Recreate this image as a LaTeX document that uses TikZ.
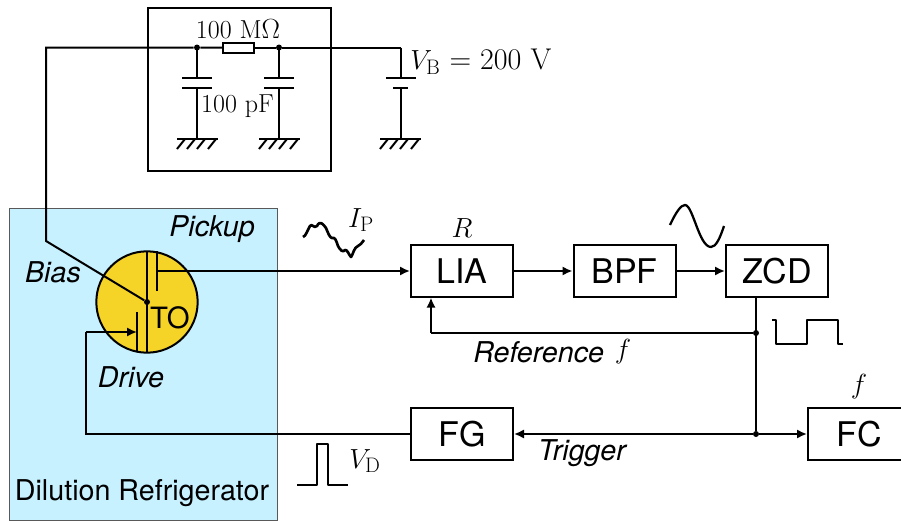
\documentclass[tikz,border=0pt]{standalone}
\usepackage{fontspec}
\newfontfamily\hv{TeX Gyre Heros}
\usetikzlibrary{arrows.meta}
\tikzset{
  x=0.75pt,y=-0.75pt,
  wire/.style={line width=1.5pt,line join=miter},
  sig/.style={wire,-{Latex[length=7.5pt,width=7pt]}},
  blockbox/.style={draw,line width=1.5pt,fill=white,minimum width=76.5pt,minimum height=38.5pt,inner sep=0pt,font=\hv\fontsize{25.5}{30}\selectfont},
  lab/.style={inner sep=0pt,font=\hv\itshape\fontsize{21.5}{26}\selectfont},
  serif/.style={inner sep=0pt,font=\fontsize{19.5}{23}\selectfont},
  mth/.style={inner sep=0pt,font=\fontsize{22.5}{27}\selectfont},
  dotn/.style={circle,fill=black,inner sep=0pt,minimum size=4.5pt},
  wave/.style={line width=1.5pt,line join=round},
}
\newcommand{\gnd}[1]{%
  \draw[wire] (#1-20,139) -- (#1+21,139);
  \foreach \d in {-12,-2,8,19}{\draw[wire] (#1+\d,139) -- ++(-8,10);}
}
\begin{document}
\begin{tikzpicture}
\useasboundingbox (0,0) rectangle (901,521);
% refrigerator
\node[draw=black!65,line width=0.9pt,inner sep=0pt,anchor=north west,fill={rgb,255:red,200;green,241;blue,255},minimum width=201pt,minimum height=234pt] (fridge) at (9,208) {};
% bias network box
\node[draw,line width=1.5pt,anchor=north west,inner sep=0pt,minimum width=137.25pt,minimum height=122pt] (rcbox) at (147,7) {};
% qubit
\node[circle,draw,line width=1.5pt,fill={rgb,255:red,245;green,211;blue,39},minimum size=76pt,inner sep=0pt] (to) at (147,302) {};
\node[inner sep=0pt,font=\hv\fontsize{22}{26}\selectfont] (tolab) at (170,318) {TO};
% blocks
\node[blockbox] (lia) at (462,271) {LIA};
\node[blockbox] (bpf) at (624.5,271) {BPF};
\node[blockbox] (zcd) at (777,271) {ZCD};
\node[blockbox] (fg) at (462,434) {FG};
\node[blockbox,anchor=west] (fc) at (807,434) {FC};
% coordinates
\coordinate (biasTop) at (46,47.5);
\coordinate (biasBend) at (46,241);
\node[dotn] (center) at (147,302) {};
\node[dotn] (n1) at (197,47.5) {};
\node[dotn] (n2) at (279,47.5) {};
\coordinate (vb) at (400.5,47.5);
\node[draw,line width=1.5pt,fill=white,minimum width=23.5pt,minimum height=7.5pt,inner sep=0pt] (res) at (238.5,47.5) {};
\node[dotn] (j1) at (756,333) {};
\node[dotn] (j2) at (756,434) {};
\coordinate (fbk) at (431,333);
\coordinate (toA) at (147,251);
\coordinate (toB) at (147,353);
\coordinate (puT) at (157,251);
\coordinate (puB) at (157,291);
\coordinate (puM) at (157,271);
\coordinate (drT) at (137,312);
\coordinate (drB) at (137,352);
\coordinate (drM) at (137,332);
\coordinate (drC) at (86,332);
\coordinate (drD) at (86,434);
% wiring
\draw[wire] (center) -- (biasBend) -- (biasTop) -- (n1) -- (res);
\draw[wire] (res) -- (n2) -- (vb);
\draw[wire] (toA) -- (toB);
\draw[wire] (puT) -- (puB);
\draw[wire] (drT) -- (drB);
\draw[sig] (puM) -- (lia.west);
\draw[sig] (lia) -- (bpf);
\draw[sig] (bpf) -- (zcd);
\draw[wire] (fg.west) -- (drD) -- (drC);
\draw[sig] (drC) -- (drM);
\draw[wire] (zcd.south -| j1) -- (j2);
\draw[wire] (j1) -- (fbk);
\draw[sig] (fbk) -- (fbk |- lia.south);
\draw[sig] (j2) -- (fc.west);
\draw[sig] (j2) -- (fg.east);
% capacitors
\foreach \cx in {197,279}{
  \draw[wire] (\cx,47.5) -- (\cx,78);
  \draw[wire] (\cx-15,78) -- (\cx+15,78);
  \draw[wire] (\cx-15,88) -- (\cx+15,88);
  \draw[wire] (\cx,88) -- (\cx,139);
  \gnd{\cx}
}
\draw[wire] (vb) -- (400.5,78);
\draw[wire] (386,78) -- (416,78);
\draw[wire] (393,88) -- (408,88);
\draw[wire] (400.5,88) -- (400.5,139);
\gnd{400}
% labels
\node[serif] (lr) at (238,29) {100 M$\Omega$};
\node[serif] (lc) at (237.5,106) {100 pF};
\node[mth,anchor=west] (lvb) at (410,62) {$V_{\mathrm{B}}$ = 200 V};
\node[lab] (lpick) at (212,229) {Pickup};
\node[lab] (lbias) at (53,272) {Bias};
\node[lab] (ldrive) at (131,377) {Drive};
\node[inner sep=0pt,font=\hv\fontsize{21.5}{26}\selectfont] (ldil) at (142,493) {Dilution Refrigerator};
\node[mth] (lip) at (361,220) {$I_{\mathrm{P}}$};
\node[mth] (lR) at (462,228) {$R$};
\node[mth] (lf) at (859,387) {$f$};
\node[lab,anchor=west] (lref) at (473,352) {Reference};
\node[mth] (lf2) at (623,352) {$f$};
\node[lab] (ltr) at (582,453) {Trigger};
\node[mth] (lvd) at (365,461) {$V_{\mathrm{D}}$};
% waveforms
\draw[wave,line width=2pt] (303,237) .. controls (306,236) and (307,231) .. (310,226) .. controls (312,223) and (314,229) .. (317,226)
  .. controls (320,220) and (323,224) .. (326,228) .. controls (328,233) and (330,238) .. (332,238)
  .. controls (335,237) and (336,240) .. (338,246) .. controls (340,250) and (343,253) .. (345,250)
  .. controls (347,249) and (349,255) .. (351,257) .. controls (353,255) and (354,247) .. (358,246)
  .. controls (360,245) and (361,244) .. (364,240);
\draw[wave,line width=1.7pt] (670,225) .. controls (676,212) and (681,205) .. (685,205) .. controls (693,205) and (699,247) .. (711,247)
  .. controls (716,247) and (720,238) .. (724,226);
\draw[wave] (772,320) -- (776,320) -- (776,344) -- (807,344) -- (807,320) -- (838,320) -- (838,344) -- (843,344);
\draw[wave] (297,485) -- (317,485) -- (317,444) -- (328,444) -- (328,485) -- (348,485);
\end{tikzpicture}
\end{document}
